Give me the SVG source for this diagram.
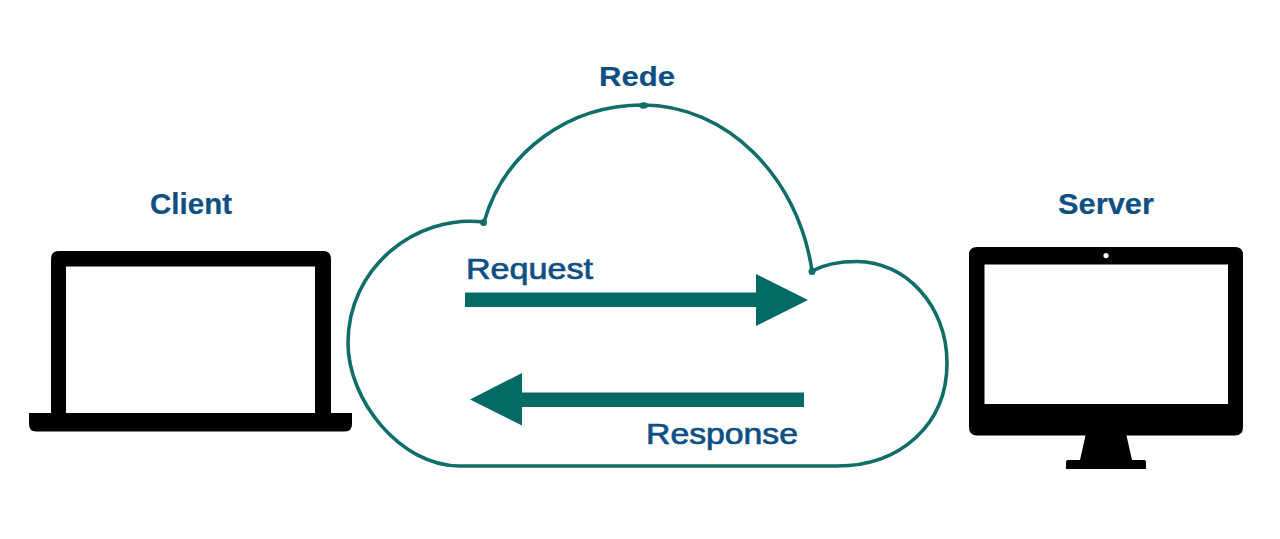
<svg xmlns="http://www.w3.org/2000/svg" width="1280" height="539" viewBox="0 0 1280 539">
<style>
.lbl{font-family:"Liberation Sans",Arial,sans-serif;fill:#0e4f84;stroke:#0e4f84}
.bold{font-weight:700;stroke-width:.2}
.mid{stroke-width:.7}
.dev{fill:#000;fill-rule:evenodd}
.arrow{fill:#036b64}
.knot{fill:#0f6e67}
</style>
<rect width="1280" height="539" fill="#fff"/>
<g id="client">
<path class="dev" d="M59 251H323Q331 251 331 259V413H352V424Q352 431.500 345 431.500H36Q29 431.500 29 424V413H51V259Q51 251 59 251ZM66 266.500V413H315V266.500Z"/>
<text class="lbl bold" x="150" y="214" font-size="29" textLength="82" lengthAdjust="spacingAndGlyphs">Client</text>
</g>
<g id="network">
<path d="M484 222C415 214 348 268 348 343C348 400 400 466 460 466L837 466C900 466 947 425 947 363C947 305 905 261.500 857 261.500C840 261.500 825 264 812 271C798 175 725 105 643 105C570 105 505 150 484 222Z" fill="none" stroke="#0f6e67" stroke-width="3.600" stroke-linejoin="round"/>
<circle class="knot" cx="483.500" cy="222.500" r="3.500"/>
<circle class="knot" cx="812" cy="271.500" r="3.500"/>
<ellipse class="knot" cx="643.500" cy="105.500" rx="5" ry="3.200"/>
<text class="lbl bold" x="599" y="86" font-size="27" textLength="76" lengthAdjust="spacingAndGlyphs">Rede</text>
</g>
<g id="server">
<path class="dev" d="M977 247H1235Q1243 247 1243 255V427Q1243 435.500 1235 435.500H1126.500L1132 460H1144Q1146 460 1146 462V469H1066V462Q1066 460 1068 460H1080L1085.500 435.500H977Q969 435.500 969 427V255Q969 247 977 247ZM984.500 264.500V404H1228V264.500ZM1106 253A2.600 2.600 0 1 0 1106.010 258.200A2.600 2.600 0 1 0 1106 253Z"/>
<text class="lbl bold" x="1058" y="214" font-size="29" textLength="96" lengthAdjust="spacingAndGlyphs">Server</text>
</g>
<g id="connectors">
<polygon class="arrow" points="465,292.500 756,292.500 756,274 808,300 756,326 756,307 465,307"/>
<polygon class="arrow" points="804,392.500 522,392.500 522,373 470,399.500 522,425.500 522,407 804,407"/>
<text class="lbl mid" x="466" y="279" font-size="29" textLength="127" lengthAdjust="spacingAndGlyphs">Request</text>
<text class="lbl mid" x="646" y="444" font-size="29" textLength="152" lengthAdjust="spacingAndGlyphs">Response</text>
</g>
</svg>
